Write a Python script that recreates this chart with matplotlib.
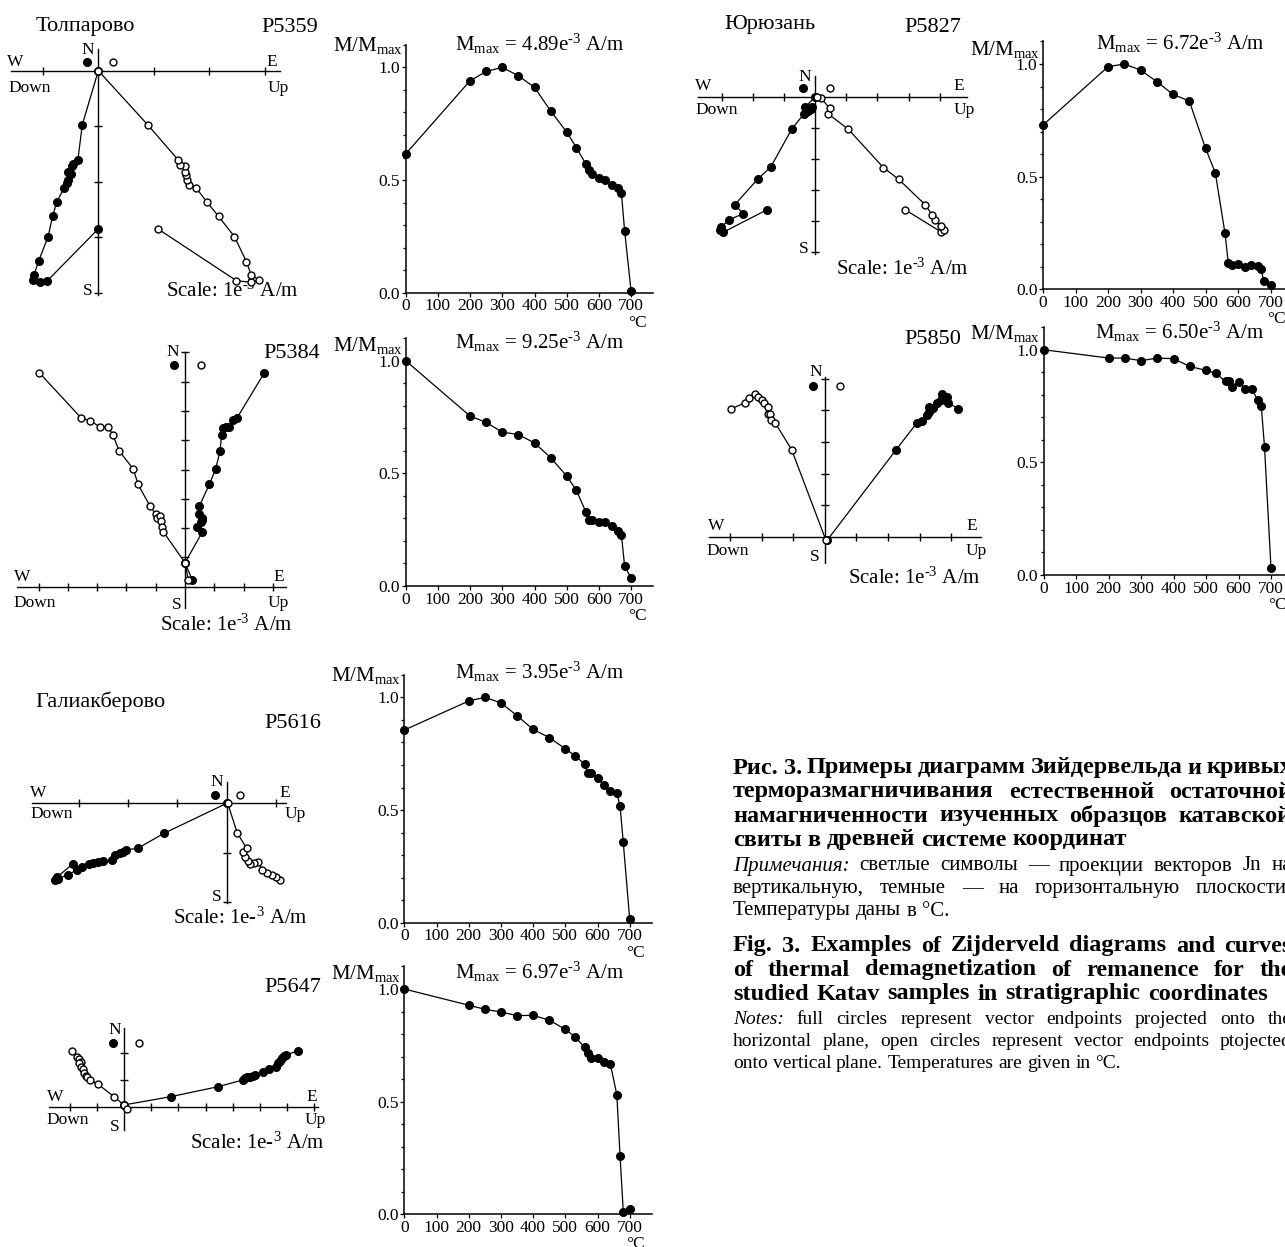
import matplotlib
matplotlib.use("Agg")
import matplotlib.pyplot as plt
from matplotlib.ticker import MultipleLocator

plt.rcParams['font.family'] = 'Liberation Serif'
plt.rcParams['mathtext.fontset'] = 'custom'
plt.rcParams['mathtext.rm'] = 'Liberation Serif'
plt.rcParams['mathtext.default'] = 'regular'

# ---- thermal demagnetization curves (M/Mmax vs T, degC) ----
temps = [0, 200, 250, 300, 350, 400, 450, 500, 530, 560, 570, 580, 600, 620, 640, 660, 670, 680, 700]
m_p5359 = [0.616, 0.941, 0.982, 1.0, 0.963, 0.911, 0.807, 0.713, 0.644, 0.570, 0.545, 0.527,
           0.510, 0.499, 0.480, 0.465, 0.441, 0.273, 0.006]
m_p5384 = [1.0, 0.754, 0.726, 0.683, 0.672, 0.635, 0.570, 0.488, 0.425, 0.327, 0.293, 0.293,
           0.283, 0.283, 0.265, 0.243, 0.225, 0.087, 0.036]
m_p5616 = [0.855, 0.984, 1.0, 0.976, 0.919, 0.858, 0.822, 0.772, 0.741, 0.704, 0.664, 0.666,
           0.643, 0.609, 0.583, 0.574, 0.518, 0.357, 0.015]
m_p5647 = [1.0, 0.928, 0.910, 0.898, 0.882, 0.883, 0.862, 0.821, 0.788, 0.741, 0.717, 0.694,
           0.695, 0.676, 0.666, 0.531, 0.260, 0.012, 0.025]
m_p5827 = [0.729, 0.988, 1.0, 0.973, 0.922, 0.865, 0.836, 0.626, 0.518, 0.249, 0.118, 0.108,
           0.112, 0.098, 0.108, 0.104, 0.089, 0.037, 0.019]
m_p5850 = [1.0, 0.963, 0.963, 0.951, 0.963, 0.960, 0.926, 0.908, 0.896, 0.859, 0.859, 0.834,
           0.856, 0.827, 0.827, 0.775, 0.751, 0.570, 0.030]
mmax_labels = ["4.89", "9.25", "3.95", "6.97", "6.72", "6.50"]

# ---- Zijderveld projections (units of 1e-3 A/m scale ticks) ----
# horizontal plane (full circles) and vertical plane (open circles), NRM first
p5359_hx = [0, -0.916, -1.054, -1.175, -1.157, -1.072, -0.904, -0.825, -0.747, -0.614, -0.572,
            -0.548, -0.542, -0.5, -0.476, -0.452, -0.367, -0.289, 0]
p5359_hy = [-2.85, -3.783, -3.813, -3.771, -3.675, -3.422, -2.988, -2.627, -2.361, -2.108, -2.024,
            -1.976, -1.825, -1.867, -1.711, -1.675, -1.602, -0.976, 0]
p5359_vx = [1.072, 2.488, 2.753, 2.892, 2.753, 2.669, 2.452, 2.169, 1.958, 1.759, 1.639, 1.596,
            1.584, 1.554, 1.554, 1.464, 1.434, 0.892, 0]
p5359_vy = [-2.849, -3.783, -3.813, -3.771, -3.675, -3.44, -2.988, -2.627, -2.367, -2.108, -2.054,
            -1.976, -1.873, -1.825, -1.717, -1.693, -1.602, -0.976, 0]

p5384_hx = [2.705, 1.784, 1.625, 1.511, 1.398, 1.284, 1.25, 1.193, 1.045, 0.83, 0.489, 0.477,
            0.568, 0.591, 0.545, 0.398, 0.591, 0, 0.25]
p5384_hy = [7.295, 5.773, 5.705, 5.455, 5.455, 5.432, 5.17, 4.625, 4.011, 3.489, 2.75, 2.477,
            2.352, 2.273, 2.216, 2.023, 1.864, 0.818, 0.227]
p5384_vx = [-4.966, -3.545, -3.239, -2.898, -2.614, -2.466, -2.239, -1.761, -1.602, -1.193, -1.0,
            -0.966, -0.852, -0.818, -0.795, -0.739, 0, 0.114]
p5384_vy = [7.295, 5.761, 5.659, 5.455, 5.455, 5.182, 4.625, 4.011, 3.489, 2.75, 2.477, 2.352,
            2.409, 2.25, 2.023, 1.875, 0.818, 0.227]

p5616_hx = [-3.122, -3.446, -3.48, -3.412, -3.223, -3.041, -2.939, -2.784, -2.703, -2.601, -2.5,
            -2.331, -2.264, -2.162, -2.095, -2.041, -1.804, -1.27, 0]
p5616_hy = [-1.23, -1.5, -1.554, -1.527, -1.453, -1.351, -1.284, -1.23, -1.203, -1.196, -1.162,
            -1.149, -1.047, -1.014, -0.98, -0.946, -0.912, -0.608, 0]
p5616_vx = [1.081, 0.993, 0.912, 0.811, 0.709, 0.642, 0.554, 0.473, 0.439, 0.372, 0.324, 0.405,
            0.216, 0.02]
p5616_vy = [-1.554, -1.486, -1.453, -1.419, -1.351, -1.182, -1.203, -1.236, -1.162, -1.081, -0.993,
            -0.912, -0.608, 0]

p5647_hx = [6.38, 5.963, 5.89, 5.804, 5.718, 5.644, 5.595, 5.313, 5.104, 4.822, 4.736, 4.638,
            4.54, 4.454, 4.368, 3.472, 1.73, 0]
p5647_hy = [2.074, 1.926, 1.89, 1.804, 1.718, 1.644, 1.497, 1.411, 1.288, 1.19, 1.153, 1.129,
            1.104, 1.067, 1.006, 0.761, 0.393, 0.086]
p5647_vx = [-1.926, -1.718, -1.644, -1.595, -1.656, -1.583, -1.521, -1.472, -1.411, -1.35, -1.252,
            -0.969, -0.368, 0, 0.098]
p5647_vy = [2.074, 1.865, 1.767, 1.681, 1.62, 1.497, 1.399, 1.252, 1.166, 1.104, 1.006, 0.859,
            0.393, 0.086, -0.074]

p5827_hx = [-1.549, -2.951, -3.073, -3.024, -2.768, -2.317, -2.585, -1.854, -1.427, -0.756, -0.366,
            -0.305, -0.22, -0.146, -0.098, -0.329, 0]
p5827_hy = [-3.634, -4.355, -4.301, -4.194, -3.957, -3.763, -3.473, -2.656, -2.258, -1.043, -0.559,
            -0.484, -0.452, -0.409, -0.344, -0.344, 0]
p5827_vx = [2.89, 4.061, 4.146, 4.049, 3.841, 3.756, 3.537, 2.683, 2.195, 1.061, 0.427, 0.463,
            0.183, 0.061]
p5827_vy = [-3.634, -4.355, -4.301, -4.172, -3.957, -3.796, -3.473, -2.656, -2.28, -1.043, -0.559,
            -0.376, -0.032, 0]

p5850_hx = [4.217, 3.916, 3.855, 3.711, 3.675, 3.554, 3.434, 3.313, 3.289, 3.253, 3.072, 2.916,
            2.265, 0.084]
p5850_hy = [4.053, 4.232, 4.421, 4.526, 4.337, 4.232, 4.084, 4.105, 3.947, 3.842, 3.663, 3.6,
            2.758, -0.105]
p5850_vx = [-2.952, -2.53, -2.386, -2.193, -2.108, -1.988, -1.928, -1.807, -1.807, -1.723, -1.687,
            -1.566, -1.048, 0.036]
p5850_vy = [4.053, 4.232, 4.389, 4.526, 4.421, 4.337, 4.232, 4.105, 3.874, 3.874, 3.684, 3.6,
            2.758, -0.105]

# key symbols next to the N label: (full x, full y, open x, open y)
keys = {
    "P5359": (-0.21, 0.15, 0.27, 0.15),
    "P5384": (-0.375, 7.557, 0.545, 7.557),
    "P5616": (-0.236, 0.169, 0.27, 0.169),
    "P5647": (-0.415, 2.35, 0.55, 2.35),
    "P5827": (-0.402, 0.269, 0.463, 0.269),
    "P5850": (-0.361, 4.768, 0.482, 4.768),
}

HY = "\u2010"  # plain hyphen, the source prints e-3 with a short dash
SCALE = "Scale: 1e$^{" + HY + "3}$ A/m"
SCALE_ALT = "Scale: 1e" + HY + "$^{3}$ A/m"

W, H = 1285, 1247
fig = plt.figure(figsize=(W / 100, H / 100), dpi=100)


def box(l, t, r, b):
    return fig.add_axes([l / W, 1 - b / H, (r - l) / W, (b - t) / H])


def zij(ox, oy, u, xr, yr, hx, hy, vx, vy, key):
    ax = box(ox + xr[0] * u, oy - yr[1] * u, ox + xr[1] * u, oy - yr[0] * u)
    ax.set_xlim(xr)
    ax.set_ylim(yr)
    ax.patch.set_visible(False)
    for s in ("top", "right"):
        ax.spines[s].set_visible(False)
    for s in ("left", "bottom"):
        ax.spines[s].set_position(("data", 0))
        ax.spines[s].set_linewidth(1.0)
    xt = [i for i in range(int(-(-xr[0] // 1)), int(xr[1] // 1) + 1) if i != 0]
    yt = [i for i in range(int(-(-yr[0] // 1)), int(yr[1] // 1) + 1) if i != 0]
    ax.set_xticks(xt)
    ax.set_yticks(yt)
    ax.tick_params(direction="inout", length=6, width=1.0, labelbottom=False, labelleft=False)
    ax.plot(hx, hy, color="k", lw=0.9, marker="o", ms=5.5, mfc="k", mec="k", zorder=3, clip_on=False)
    ax.plot(vx, vy, color="k", lw=0.9, marker="o", ms=5, mfc="white", mec="k", mew=1.0, zorder=4,
            clip_on=False)
    ax.plot(key[0], key[1], "o", ms=5.5, color="k", clip_on=False)
    ax.plot(key[2], key[3], "o", ms=5, mfc="white", mec="k", mew=1.0, clip_on=False)
    return ax


def demag(x0, y0, m, ux=32.2, uy=225.3, xmax=768):
    ax = box(x0, y0 - 1.1 * uy, x0 + xmax / 100 * ux, y0)
    ax.plot(temps, m, color="k", lw=0.9, marker="o", ms=5.5, clip_on=False, zorder=3)
    ax.set_xlim(0, xmax)
    ax.set_ylim(0, 1.1)
    ax.patch.set_visible(False)
    for s in ("top", "right"):
        ax.spines[s].set_visible(False)
    for s in ("left", "bottom"):
        ax.spines[s].set_linewidth(1.1)
    ax.set_xticks(range(0, 800, 100))
    ax.set_yticks([0, 0.5, 1.0])
    ax.set_yticklabels(["0.0", "0.5", "1.0"])
    ax.yaxis.set_minor_locator(MultipleLocator(0.1))
    ax.tick_params(which="both", direction="out", length=3, width=0.9, labelsize=12.5, pad=1)
    ax.tick_params(which="minor", length=2.5)
    ax.annotate("°C", xy=(700, 0), xycoords="data", xytext=(6, -30), textcoords="offset pixels",
                ha="center", va="center", fontsize=12.5, annotation_clip=False)
    return ax


# layout layer in figure pixels, for all the free labels
lay = fig.add_axes([0, 0, 1, 1])
lay.set_xlim(0, W)
lay.set_ylim(H, 0)
lay.axis("off")


def txt(x, y, s, size=12.5, ha="center", **kw):
    lay.text(x, y, s, fontsize=size, ha=ha, va="center", **kw)


def frame_labels(n, w, e, down, up, s, scale, name=None, name_xy=None, code_xy=None, code=""):
    txt(*n, "N")
    txt(*w, "W")
    txt(*e, "E")
    txt(*down, "Down")
    txt(*up, "Up")
    txt(*s, "S")
    txt(scale[0], scale[1], scale[2], size=15)
    if name:
        txt(*name_xy, name, size=16)
    txt(*code_xy, code, size=16)


# ---- left column ----
zij(98.3, 70.7, 55.5, (-1.57, 3.28), (-4.05, 0.40), p5359_hx, p5359_hy, p5359_vx, p5359_vy, keys["P5359"])
frame_labels((88, 50), (15, 62), (272, 62), (30, 88), (278, 88), (88, 291),
             (232, 291, SCALE), "Толпарово", (85, 26), (290, 28), "P5359")

zij(185, 586.7, 29.3, (-5.74, 3.44), (-0.74, 8.01), p5384_hx, p5384_hy, p5384_vx, p5384_vy, keys["P5384"])
frame_labels((173, 352), (22, 577), (279, 577), (35, 603), (278, 603), (177, 605),
             (226, 625, SCALE), code_xy=(292, 353), code="P5384")

zij(226.7, 803.3, 49.3, (-3.94, 1.20), (-2.02, 0.44), p5616_hx, p5616_hy, p5616_vx, p5616_vy, keys["P5616"])
frame_labels((217, 782), (38, 793), (285, 793), (52, 814), (295, 814), (217, 897),
             (240, 918, SCALE_ALT), "Галиакберово", (100, 702), (293, 723), "P5616")

zij(124, 1107.3, 27.2, (-2.75, 7.15), (-0.83, 2.9), p5647_hx, p5647_hy, p5647_vx, p5647_vy, keys["P5647"])
frame_labels((115, 1030), (55, 1097), (312, 1097), (68, 1120), (315, 1120), (115, 1127),
             (257, 1143, SCALE_ALT), code_xy=(293, 988), code="P5647")

# ---- right column ----
zij(815.2, 96.7, 31.1, (-3.78, 4.88), (-5.05, 0.67), p5827_hx, p5827_hy, p5827_vx, p5827_vy, keys["P5827"])
frame_labels((805, 77), (703, 86), (959, 86), (717, 110), (964, 110), (804, 249),
             (902, 269, SCALE), "Юрюзань", (770, 25), (933, 28), "P5827")

zij(824.7, 536.7, 31.6, (-3.65, 4.94), (-0.84, 5.05), p5850_hx, p5850_hy, p5850_vx, p5850_vy, keys["P5850"])
frame_labels((816, 372), (716, 526), (972, 526), (728, 551), (976, 551), (815, 557),
             (914, 578, SCALE), code_xy=(933, 340), code="P5850")

# ---- demagnetization panels ----
demag_specs = [
    (405.7, 292.7, m_p5359, 46, 44, 540),
    (405.7, 586.0, m_p5384, 346, 342, 540),
    (404.3, 922.7, m_p5616, 675, 672, 540),
    (404.3, 1214.3, m_p5647, 974, 972, 540),
    (1043.0, 289.3, m_p5827, 49, 43, 1180),
    (1043.5, 575.0, m_p5850, 334, 332, 1180),
]
for (x0, y0, m, ylab, ymax_y, xmax_c), lab in zip(demag_specs, mmax_labels):
    ux = 32.5 if x0 > 1000 else 32.2
    demag(x0, y0, m, ux=ux, xmax=1000 if x0 > 1000 else 768)
    txt(x0 - 3, ylab, r"M/M$_{max}$", size=15, ha="right")
    txt(xmax_c, ymax_y, r"M$_{max}$ = " + lab + "e$^{" + HY + "3}$ A/m", size=15)

# ---- caption (justified, runs off the right edge as in the source) ----
renderer = fig.canvas.get_renderer()


def line(words, y, size, weight="normal", justify=True, x0=733, x1=1292, italic_first=False):
    arts = []
    for i, w in enumerate(words):
        st = "italic" if (italic_first and i == 0) else "normal"
        arts.append(lay.text(0, y, w, fontsize=size, weight=weight, style=st, ha="left", va="center"))
    widths = [a.get_window_extent(renderer).width for a in arts]
    space = size * 100 / 72 * 0.25
    gap = space
    if justify and len(words) > 1:
        gap = max((x1 - x0 - sum(widths)) / (len(words) - 1), space * 0.7)
    x = x0
    for a, wd in zip(arts, widths):
        a.set_x(x)
        x += wd + gap


ru_bold = ["Рис. 3. Примеры диаграмм Зийдервельда и кривых",
           "терморазмагничивания естественной остаточной",
           "намагниченности изученных образцов катавской",
           "свиты в древней системе координат"]
ru_note = ["Примечания: светлые символы — проекции векторов Jn на",
           "вертикальную, темные — на горизонтальную плоскости.",
           "Температуры даны в °C."]
en_bold = ["Fig. 3. Examples of Zijderveld diagrams and curves",
           "of thermal demagnetization of remanence for the",
           "studied Katav samples in stratigraphic coordinates"]
en_note = ["Notes: full circles represent vector endpoints projected onto the",
           "horizontal plane, open circles represent vector endpoints ptojected",
           "onto vertical plane. Temperatures are given in °C."]

y = 768
for i, s in enumerate(ru_bold):
    line(s.split(" "), y, 17.5, weight="bold", justify=i < len(ru_bold) - 1)
    y += 24
y += 2
for i, s in enumerate(ru_note):
    line(s.split(" "), y, 15, justify=i < len(ru_note) - 1, italic_first=(i == 0))
    y += 22.5
y = 946
for i, s in enumerate(en_bold):
    line(s.split(" "), y, 17.5, weight="bold", justify=True, x1=1292 if i < 2 else 1268)
    y += 24
y += 1
for i, s in enumerate(en_note):
    line(s.split(" "), y, 14, justify=i < len(en_note) - 1, italic_first=(i == 0))
    y += 22

fig.savefig("out.png", dpi=100)
